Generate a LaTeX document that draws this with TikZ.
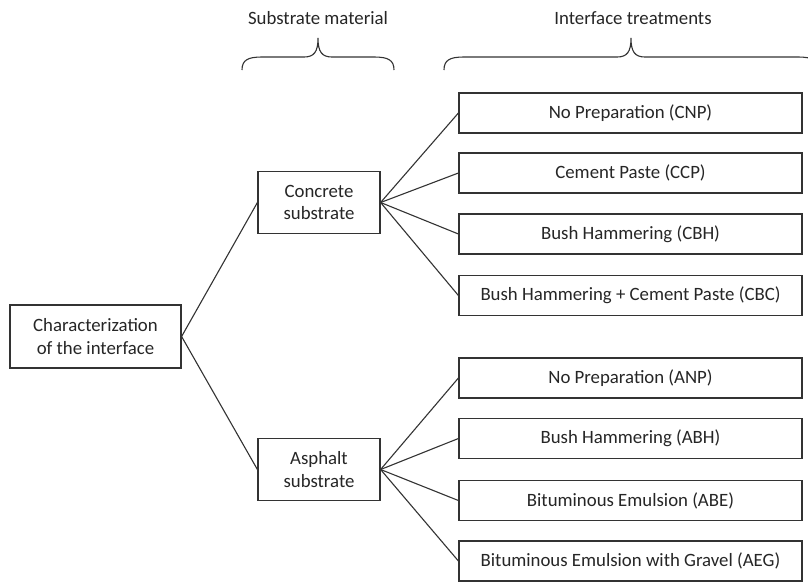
\documentclass[tikz,border=0pt]{standalone}
\usepackage{fontspec}
\setmainfont{Carlito}
\begin{document}
\begin{tikzpicture}[x=1pt,y=-1pt,
  every node/.style={font=\fontsize{18.8}{22.5}\selectfont, text=black!85},
  box/.style={draw=black!80, line width=1.2pt, inner sep=0pt, align=center},
  leaf/.style={box, minimum width=343pt, minimum height=40pt},
  mid/.style={box, minimum width=122pt, minimum height=62pt},
  link/.style={draw=black!80, line width=1.1pt},
  brace/.style={draw=black!80, line width=1.1pt}]
\useasboundingbox (0,0) rectangle (808,581);
\clip (0,0) rectangle (808,581);
\fill[white] (0,0) rectangle (808,581);

\node (lab1) at (318,18) {Substrate material};
\node (lab2) at (633,18) {Interface treatments};

% braces
\draw[brace] (242,70) .. controls (242,60) and (248,57) .. (262,57) -- (304,57)
  .. controls (314,57) and (318,52) .. (318,38)
  .. controls (318,52) and (322,57) .. (332,57) -- (374,57)
  .. controls (388,57) and (394,60) .. (394,70);
\draw[brace] (444,70) .. controls (444,60) and (450,57) .. (464,57) -- (617,57)
  .. controls (627,57) and (631,52) .. (631,38)
  .. controls (631,52) and (635,57) .. (645,57) -- (798,57)
  .. controls (812,57) and (818,60) .. (818,70);

\node[box, minimum width=171pt, minimum height=63pt] (char) at (95.5,336.5) {Characterization\\of the interface};
\node[mid] (conc) at (319,202.5) {Concrete\\substrate};
\node[mid] (asph) at (319,469.5) {Asphalt\\substrate};

\node[leaf] (cnp) at (630.5,113) {No Preparation (CNP)};
\node[leaf] (ccp) at (630.5,173) {Cement Paste (CCP)};
\node[leaf] (cbh) at (630.5,234) {Bush Hammering (CBH)};
\node[leaf] (cbc) at (630.5,295.5) {Bush Hammering + Cement Paste (CBC)};
\node[leaf] (anp) at (630.5,378) {No Preparation (ANP)};
\node[leaf] (abh) at (630.5,438.5) {Bush Hammering (ABH)};
\node[leaf] (abe) at (630.5,500.5) {Bituminous Emulsion (ABE)};
\node[leaf] (aeg) at (630.5,561) {Bituminous Emulsion with Gravel (AEG)};

\draw[link] (char.east) -- (conc.west);
\draw[link] (char.east) -- (asph.west);
\foreach \n in {cnp,ccp,cbh,cbc} \draw[link] (conc.east) -- (\n.west);
\foreach \n in {anp,abh,abe,aeg} \draw[link] (asph.east) -- (\n.west);
\end{tikzpicture}
\end{document}
